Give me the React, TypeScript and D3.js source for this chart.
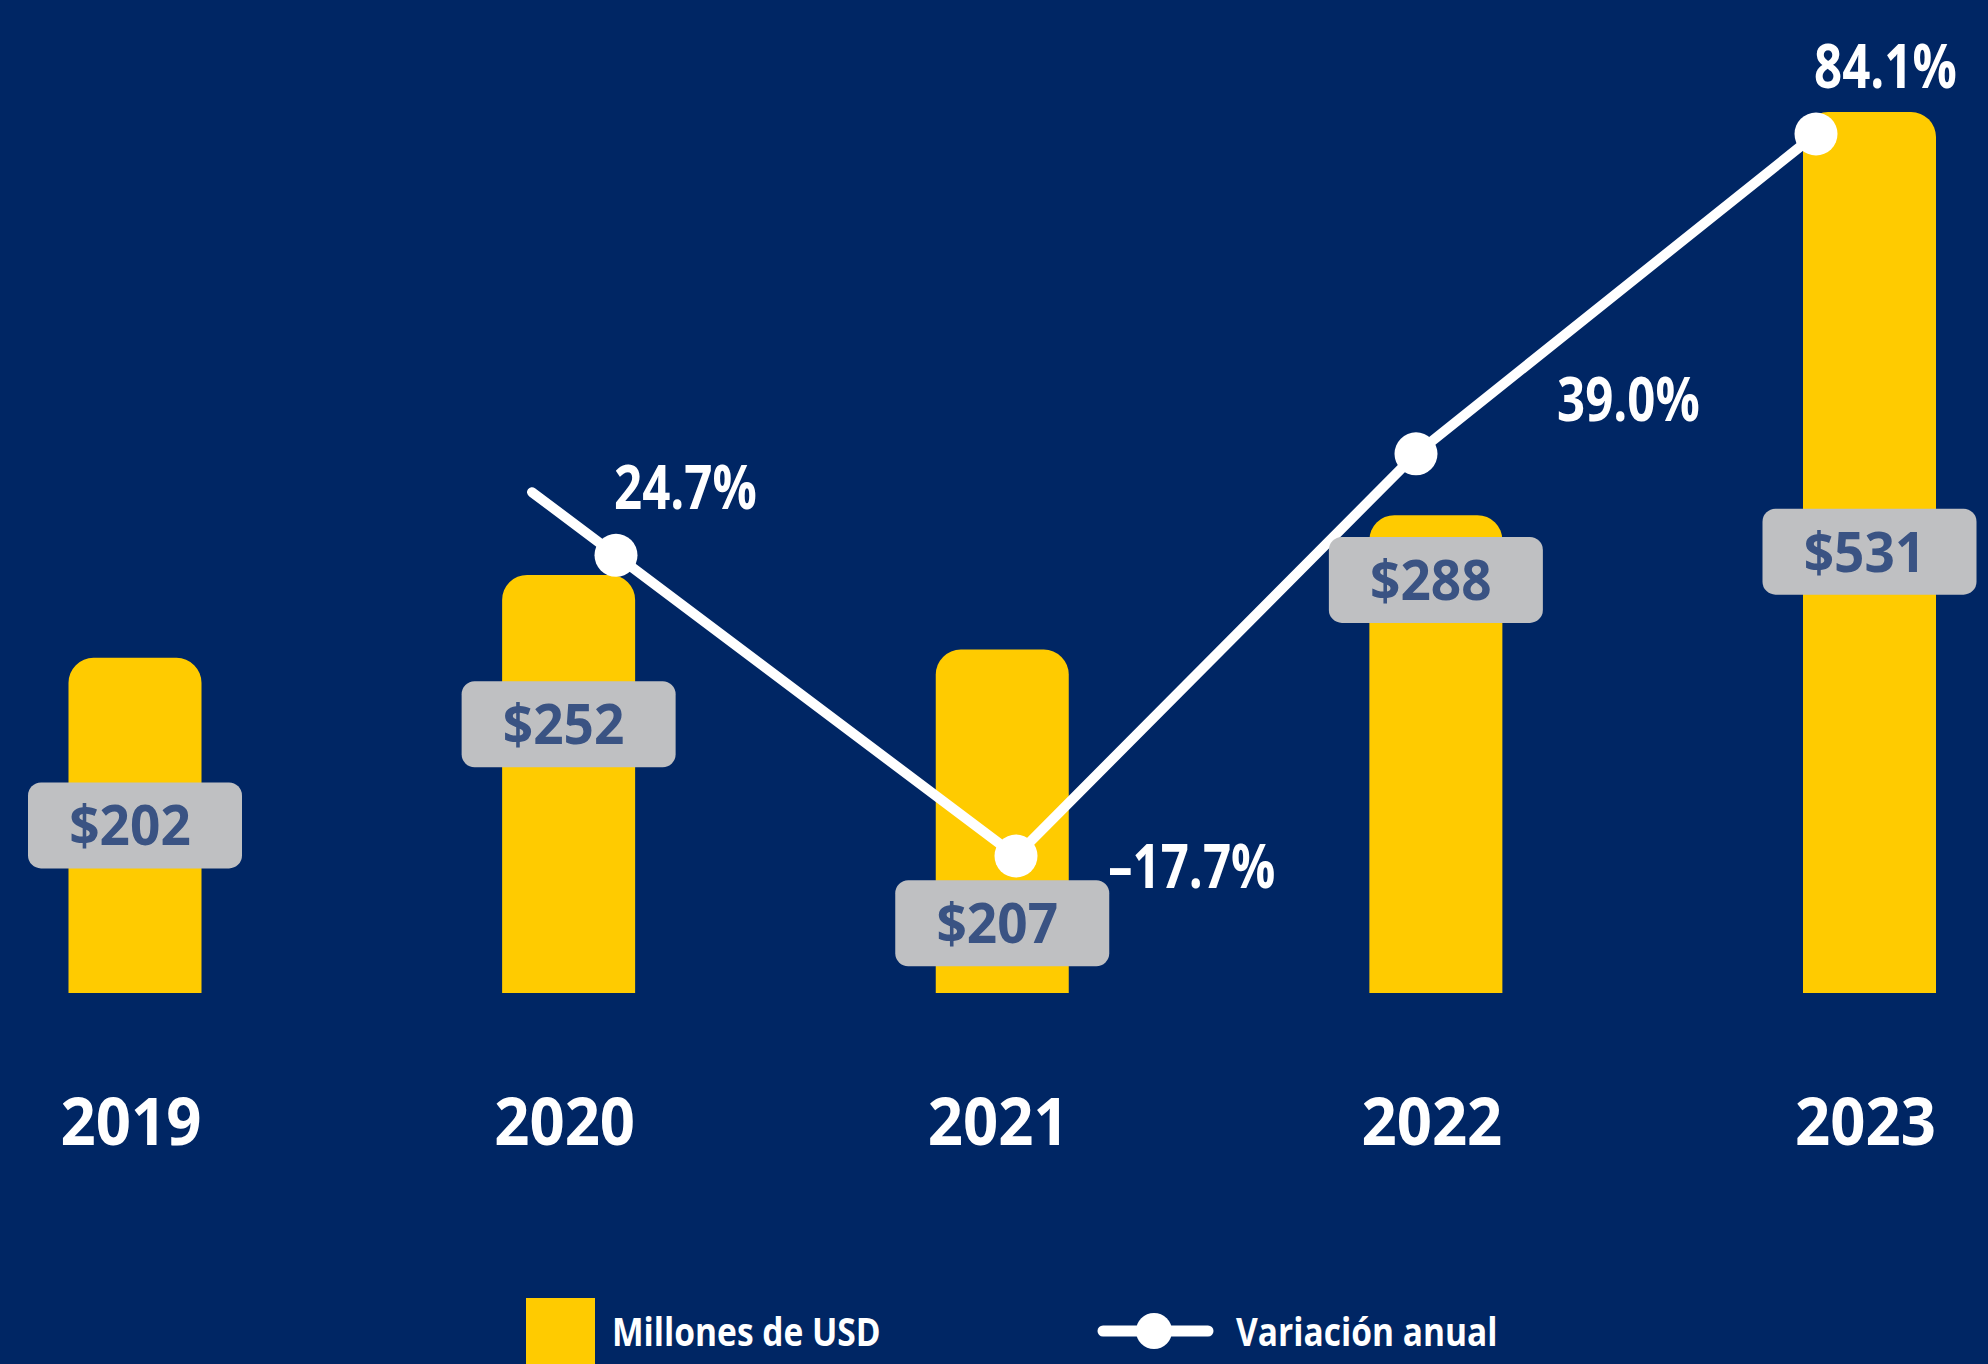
import React from "react";
import * as d3 from "d3";

// ---- data ----
const years = ["2019", "2020", "2021", "2022", "2023"];
const millions = [202, 252, 207, 288, 531];
const variationYears = ["2020", "2021", "2022", "2023"];
const variation = [24.7, -17.7, 39.0, 84.1];
// where (in millions units) each value tag is centred on its bar
const labelAnchorValue = [101, 162, 42, 249, 266];
const variationLabelPlacement = ["above", "right", "upperRight", "above"];
const legendLabels = ["Millones de USD", "Variación anual"];

// ---- layout / style ----
const W = 1988;
const H = 1364;
const BG = "#002664";
const YELLOW = "#FFCB00";
const GREY = "#BFC0C2";
const TAG_TEXT = "#3A5383";
const FONT = "'Open Sans', 'Noto Sans', sans-serif";
const BAR_W = 133;
const BAR_R = 25;
const TAG_W = 214;
const TAG_H = 86;

const xBar = d3.scalePoint<string>().domain(years).range([135, 1869.5]);
const yBar = d3.scaleLinear().domain([0, 531]).range([993, 112]);
const xLine = d3.scalePoint<string>().domain(variationYears).range([616, 1816]);
const yLine = d3.scaleLinear().domain([-17.7, 84.1]).range([856, 134]);

const placementOffset: Record<string, [number, number]> = {
  above: [-2, -46],
  right: [92, 32],
  upperRight: [141, -33],
};

function topRoundedBar(x: number, y: number, w: number, h: number, r: number) {
  const p = d3.path();
  p.moveTo(x, y + h);
  p.lineTo(x, y + r);
  p.arcTo(x, y, x + r, y, r);
  p.lineTo(x + w - r, y);
  p.arcTo(x + w, y, x + w, y + r, r);
  p.lineTo(x + w, y + h);
  p.closePath();
  return p.toString();
}

const fmtPct = (v: number) => (v < 0 ? "–" : "") + d3.format(".1f")(Math.abs(v)) + "%";

// condensed-looking text: horizontally squeezed
function CText(props: {
  x: number;
  y: number;
  size: number;
  sx: number;
  fill: string;
  anchor?: "start" | "middle" | "end";
  children: React.ReactNode;
}) {
  return (
    <g transform={`translate(${props.x},${props.y}) scale(${props.sx},1)`}>
      <text
        x={0}
        y={0}
        textAnchor={props.anchor || "start"}
        fontFamily={FONT}
        fontWeight={700}
        fontSize={props.size}
        fill={props.fill}
      >
        {props.children}
      </text>
    </g>
  );
}

export default function App() {
  const pts = variation.map((v, i) => [xLine(variationYears[i])!, yLine(v)] as [number, number]);
  // short lead-in before the first point, along the first segment
  const ext = 0.21;
  const start: [number, number] = [
    pts[0][0] - (pts[1][0] - pts[0][0]) * ext,
    pts[0][1] - (pts[1][1] - pts[0][1]) * ext,
  ];
  const lineD = d3.line<[number, number]>()([start, ...pts])!;

  return (
    <svg width={W} height={H} style={{ position: "absolute", left: 0, top: 0, display: "block" }}>
      <rect width={W} height={H} fill={BG} />

      {/* bars */}
      {years.map((yr, i) => {
        const cx = xBar(yr)!;
        const y = yBar(millions[i]);
        return (
          <path
            key={"b" + yr}
            d={topRoundedBar(cx - BAR_W / 2, y, BAR_W, yBar(0) - y, BAR_R)}
            fill={YELLOW}
          />
        );
      })}

      {/* line */}
      <path d={lineD} fill="none" stroke="#fff" strokeWidth={10} strokeLinecap="round" strokeLinejoin="round" />
      {pts.map((p, i) => (
        <circle key={"c" + i} cx={p[0]} cy={p[1]} r={21.5} fill="#fff" />
      ))}

      {/* value tags */}
      {years.map((yr, i) => {
        const cx = xBar(yr)!;
        const cy = yBar(labelAnchorValue[i]);
        return (
          <g key={"t" + yr}>
            <rect x={cx - TAG_W / 2} y={cy - TAG_H / 2} width={TAG_W} height={TAG_H} rx={13} fill={GREY} />
            <CText x={cx - 5} y={cy + 20} size={56} sx={0.95} fill={TAG_TEXT} anchor="middle">
              {"$" + millions[i]}
            </CText>
          </g>
        );
      })}

      {/* variation labels */}
      {pts.map((p, i) => {
        const [dx, dy] = placementOffset[variationLabelPlacement[i]];
        return (
          <CText key={"v" + i} x={p[0] + dx} y={p[1] + dy} size={60} sx={0.82} fill="#fff">
            {fmtPct(variation[i])}
          </CText>
        );
      })}

      {/* year labels */}
      {years.map((yr) => (
        <CText key={"y" + yr} x={xBar(yr)! - 4} y={1145} size={67} sx={0.92} fill="#fff" anchor="middle">
          {yr}
        </CText>
      ))}

      {/* legend */}
      <rect x={526} y={1298} width={69} height={80} fill={YELLOW} />
      <CText x={612} y={1346} size={39} sx={0.86} fill="#fff">
        {legendLabels[0]}
      </CText>
      <line x1={1103} x2={1208} y1={1331} y2={1331} stroke="#fff" strokeWidth={11} strokeLinecap="round" />
      <circle cx={1154} cy={1331} r={18} fill="#fff" />
      <CText x={1236} y={1346} size={39} sx={0.86} fill="#fff">
        {legendLabels[1]}
      </CText>
    </svg>
  );
}
